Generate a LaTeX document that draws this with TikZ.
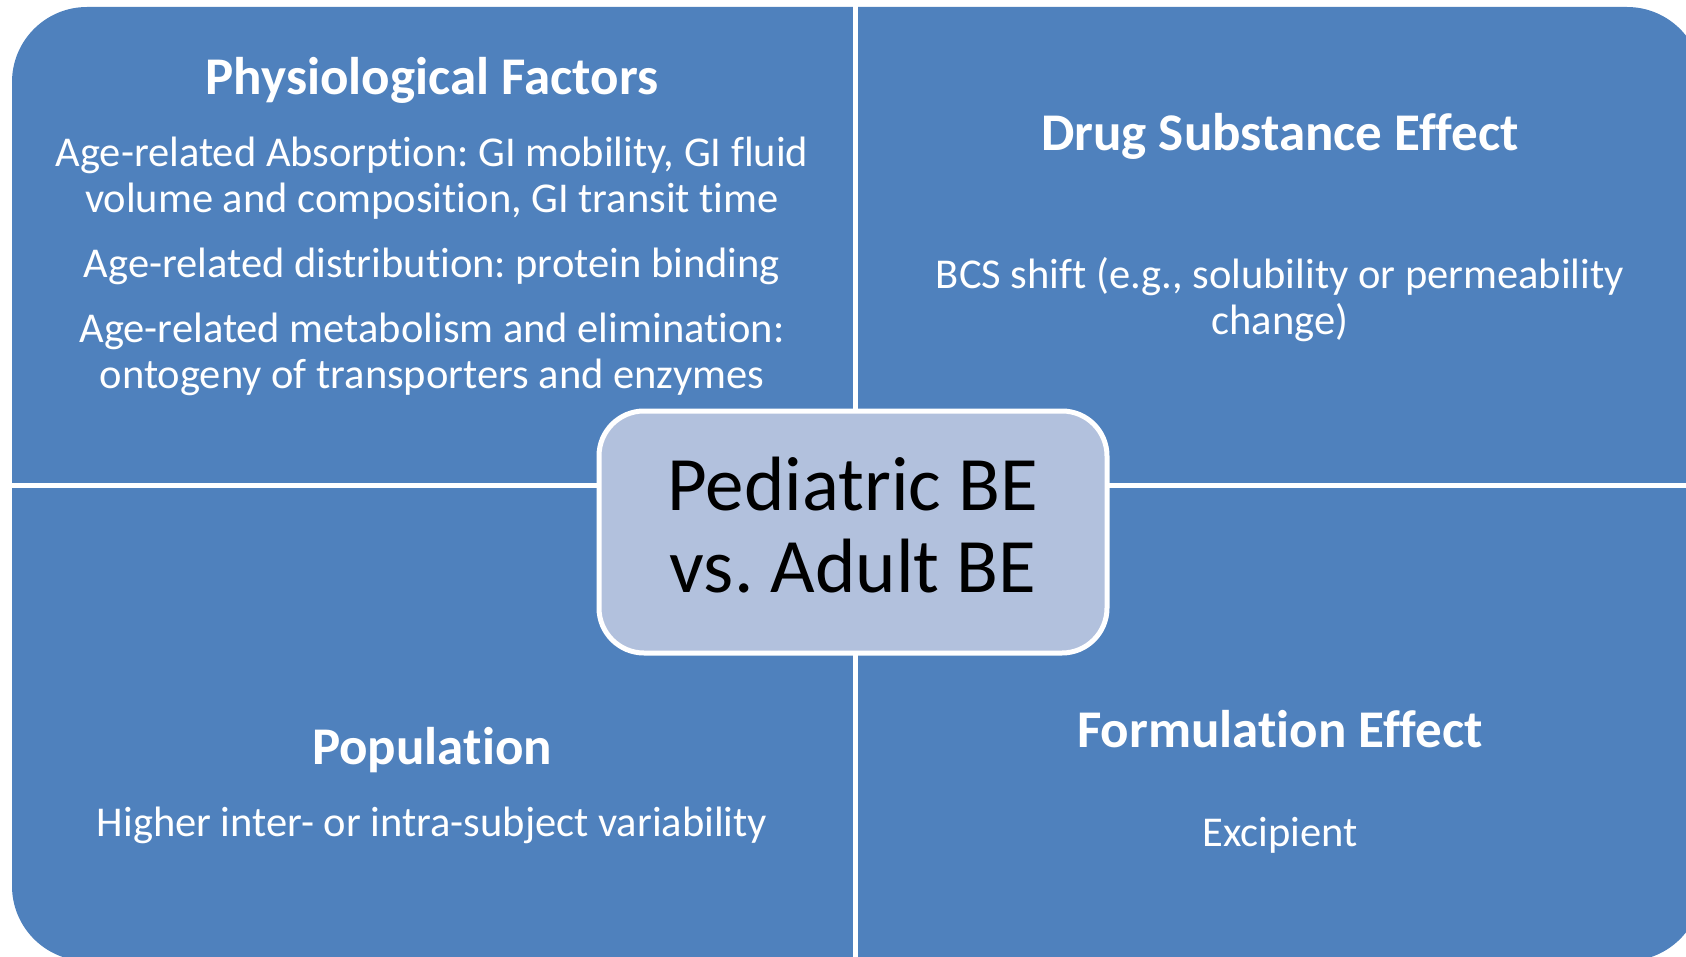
\documentclass[tikz,border=0pt]{standalone}
\usepackage{fontspec}
\setmainfont{Carlito}[Ligatures=NoCommon]
\usetikzlibrary{positioning}
\definecolor{quadblue}{RGB}{79,129,189}
\definecolor{hubblue}{RGB}{178,193,221}
\newcommand{\bodysize}{\fontsize{42.5}{46}\selectfont}
\frenchspacing
\tikzset{
    heading/.style={
        text=white,
        font=\fontsize{53}{60}\selectfont\bfseries,
        align=center,
        inner sep=0,
    },
    bodytext/.style={
        text=white,
        font=\bodysize,
        align=center,
        inner sep=0,
    },
    hub/.style={
        draw=white,
        line width=5pt,
        fill=hubblue,
        rounded corners=45pt,
        minimum width=508pt,
        minimum height=242pt,
        text depth=14pt,
        align=center,
        font=\fontsize{77}{82}\selectfont,
    },
}

\begin{document}
\begin{tikzpicture}[x=1pt,y=-1pt]
    \useasboundingbox (0,0) rectangle (1686,957);

    \fill[quadblue, rounded corners=75pt] (12,7) rectangle (1702,961);
    \draw[white, line width=5pt] (855,0) -- (855,957);
    \draw[white, line width=5pt] (0,485) -- (1686,485);

    \node[heading] (physio) at (432,80) {Physiological Factors};
    \node[bodytext] (physiotext) at (432,266) {%
        Age-related Absorption: GI mobility, GI fluid\\
        volume and composition, GI transit time\\[19pt]
        Age-related distribution: protein binding\\[19pt]
        Age-related metabolism and elimination:\\
        ontogeny of transporters and enzymes};

    \node[heading] (drug) at (1280,136) {Drug Substance Effect};
    \node[bodytext] (drugtext) at (1280,300) {%
        BCS shift (e.g., solubility or permeability\\
        change)};

    \node[heading] (popul) at (432,750) {Population};
    \node[bodytext, below=75pt of popul.center, anchor=center] (popultext) {%
        Higher inter- or intra-subject variability};

    \node[heading] (formul) at (1280,729) {Formulation Effect};
    \node[bodytext, below=106pt of formul.center, anchor=center] (formultext) {Excipient};

    \node[hub] (peds) at (853,532) {Pediatric BE\\vs. Adult BE};
\end{tikzpicture}
\end{document}
